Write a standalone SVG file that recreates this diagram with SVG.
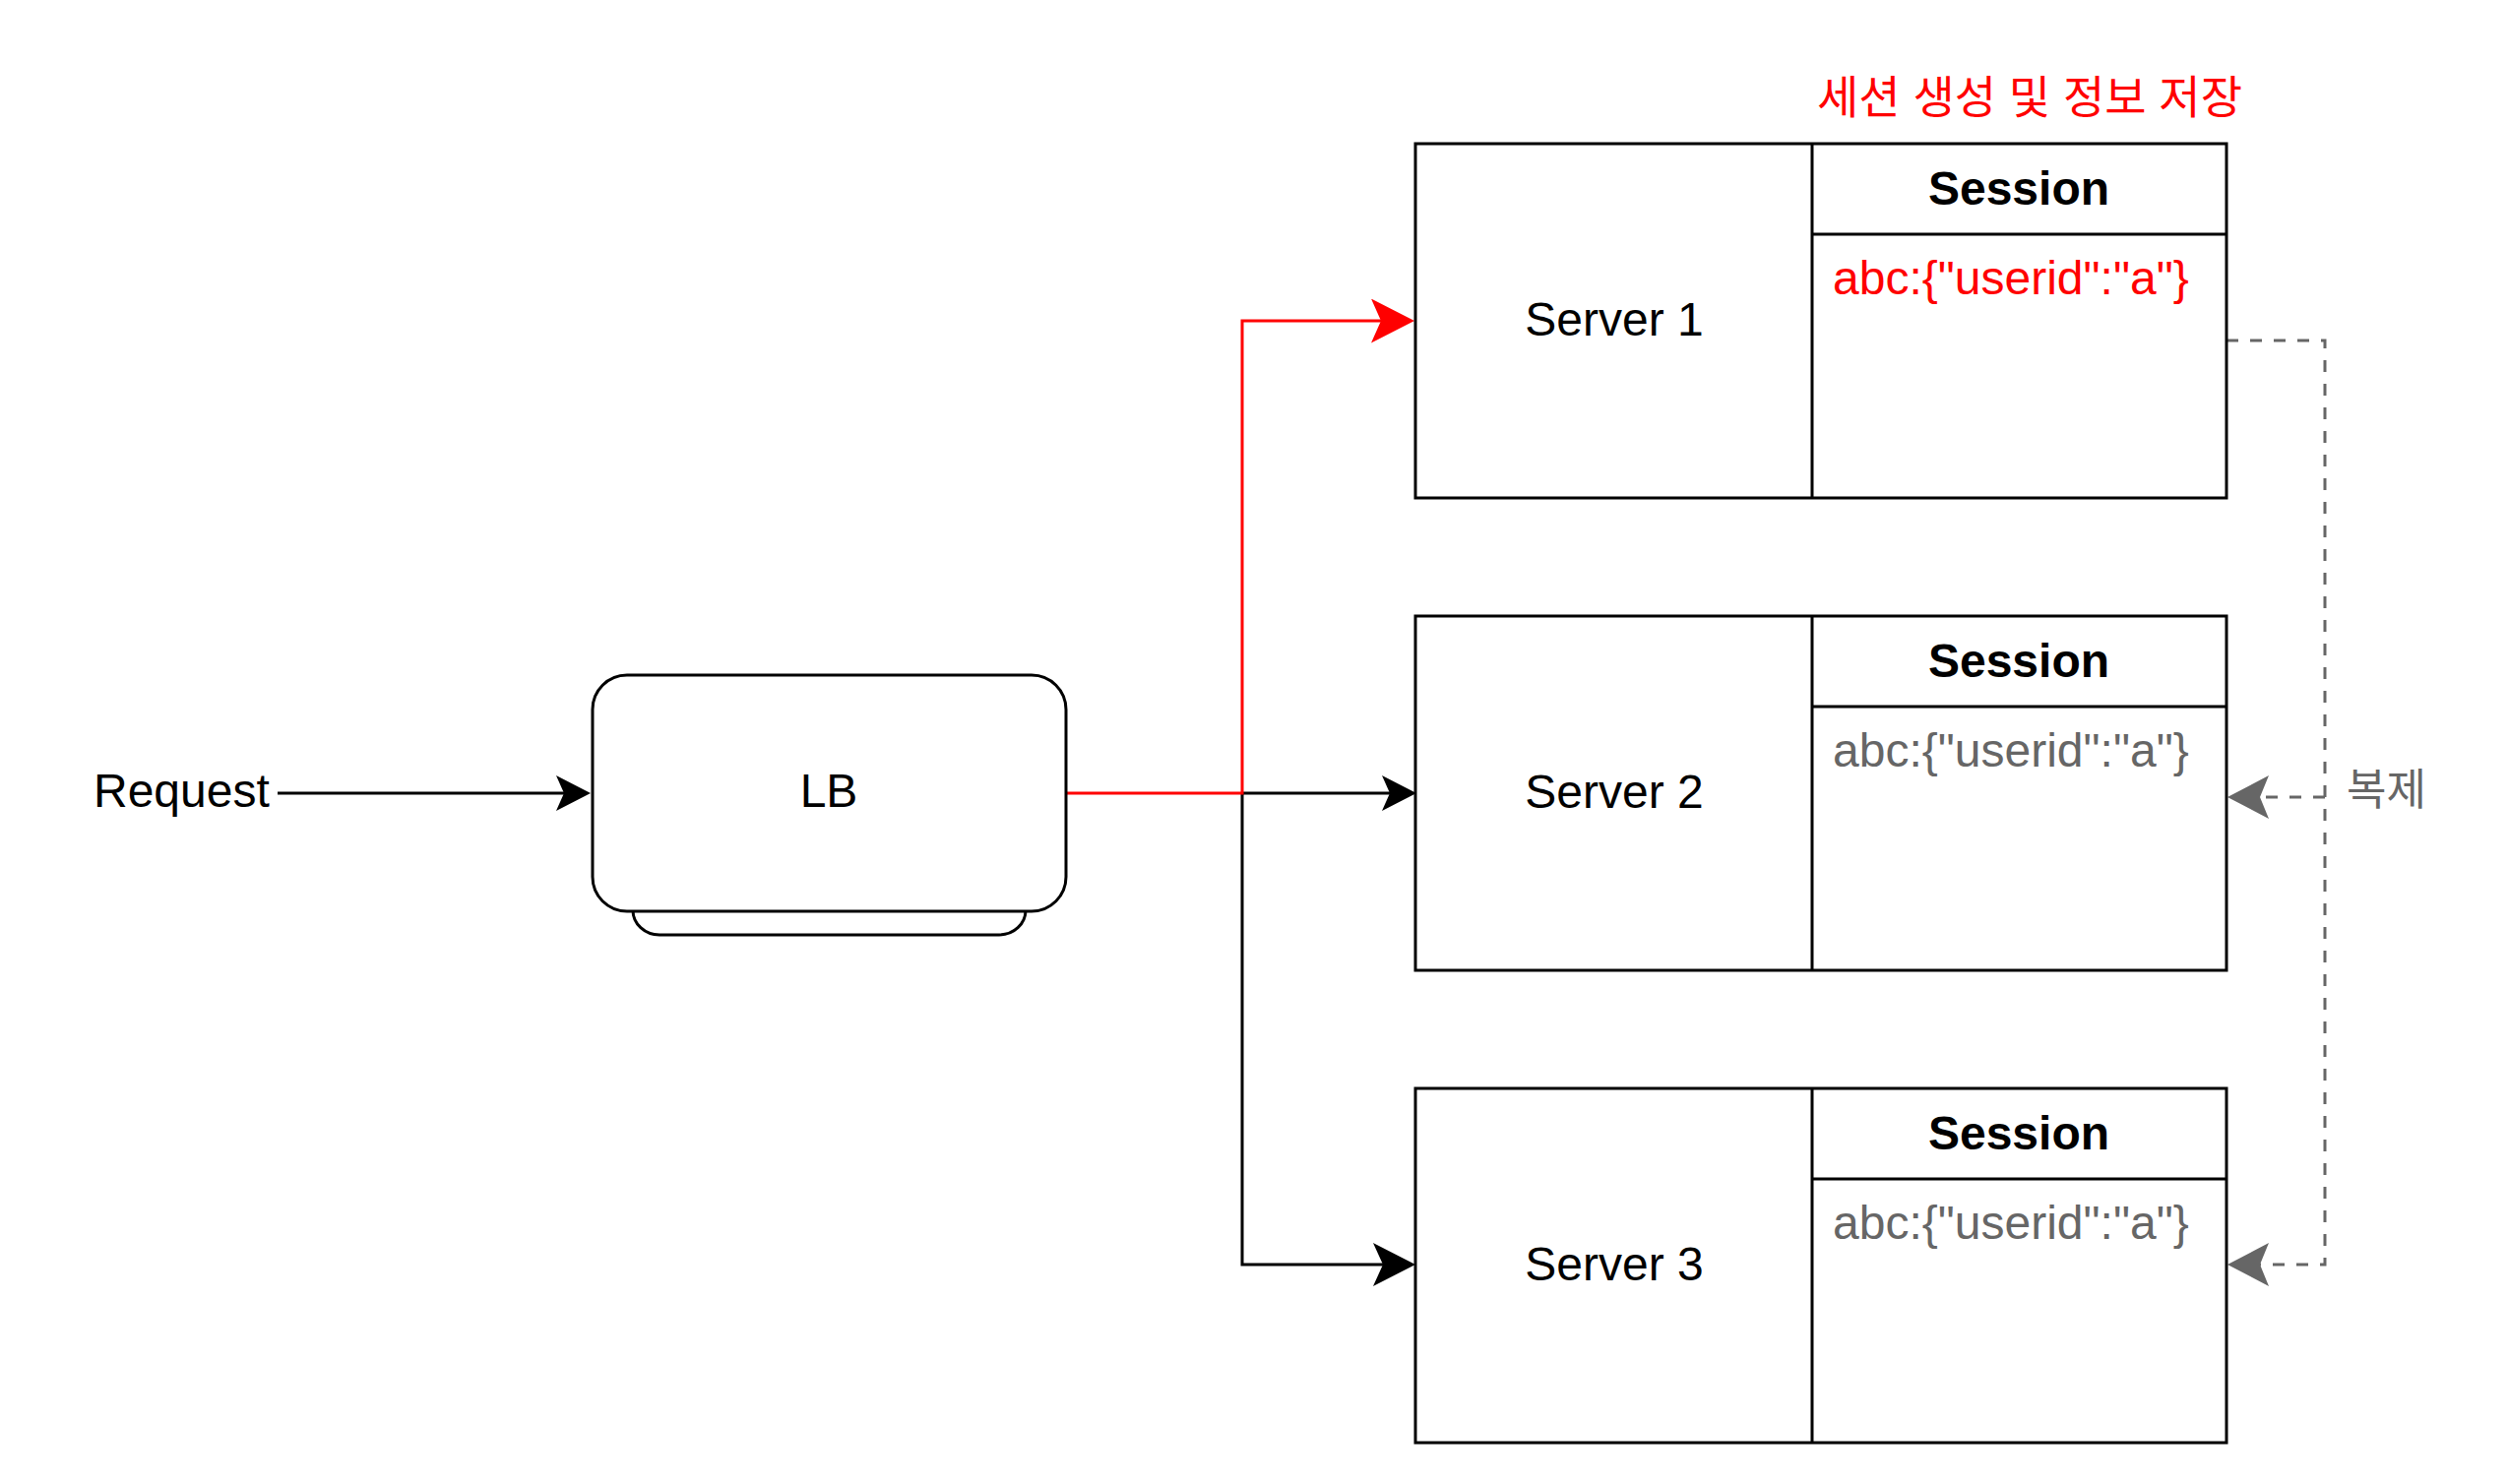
<svg xmlns="http://www.w3.org/2000/svg" width="2548" height="1508" viewBox="0 0 2548 1508">
<style>
  .box { fill: #ffffff; stroke: #000000; stroke-width: 3; }
  .ln { fill: none; stroke: #000000; stroke-width: 3; }
  .t { font-family: "Liberation Sans", Arial, "Noto Sans CJK KR", sans-serif; font-size: 48px; fill: #000000; }
  .b { font-weight: bold; text-anchor: middle; }
  .c { text-anchor: middle; }
  .red { fill: #ff0000; }
  .gray { fill: #666666; }
  .conn { fill: none; stroke-width: 3; }
  .k { stroke: #000000; }
  .r { stroke: #ff0000; }
  .g { stroke: #666666; stroke-dasharray: 12 12; }
</style>
<defs>
  <marker id="arrS" markerUnits="userSpaceOnUse" viewBox="0 0 35 36" markerWidth="35" markerHeight="36" refX="8" refY="18" orient="auto">
    <path d="M0,0 L35,18 L0,36 L8,18 Z" fill="#000000"/>
  </marker>
  <marker id="arrL" markerUnits="userSpaceOnUse" viewBox="0 0 43 44" markerWidth="43" markerHeight="44" refX="10" refY="22" orient="auto">
    <path d="M0,0 L43,22 L0,44 L10,22 Z" fill="#000000"/>
  </marker>
  <marker id="arrR" markerUnits="userSpaceOnUse" viewBox="0 0 44 45" markerWidth="44" markerHeight="45" refX="10" refY="22.5" orient="auto">
    <path d="M0,0 L44,22.5 L0,45 L10,22.5 Z" fill="#ff0000"/>
  </marker>
  <marker id="arrG" markerUnits="userSpaceOnUse" viewBox="0 0 42 44" markerWidth="42" markerHeight="44" refX="9" refY="22" orient="auto">
    <path d="M0,0 L42,22 L0,44 L9,22 Z" fill="#666666"/>
  </marker>
</defs>

<g id="connectors">
  <path class="conn k" d="M282,806 H573" marker-end="url(#arrS)"/>
  <path class="conn k" d="M1262,806 H1412" marker-end="url(#arrS)"/>
  <path class="conn k" d="M1262,806 V1285 H1405" marker-end="url(#arrL)"/>
  <path class="conn r" d="M1083,806 H1262 V326 H1403" marker-end="url(#arrR)"/>
  <path class="conn g" d="M2262,346 H2362 V1285 H2296" marker-end="url(#arrG)"/>
  <path class="conn g" d="M2362,810 H2296" marker-end="url(#arrG)"/>
</g>

<g id="request">
  <text class="t" x="95" y="820">Request</text>
</g>

<g id="lb">
  <path class="box" d="M643,900 V925 A27,25 0 0 0 670,950 H1015 A27,25 0 0 0 1042,925 V900 Z"/>
  <rect class="box" x="602" y="686" width="481" height="240" rx="35" ry="35"/>
  <text class="t c" x="842" y="820">LB</text>
</g>

<g id="server1">
  <rect class="box" x="1438" y="146" width="824" height="360"/>
  <line class="ln" x1="1841" y1="146" x2="1841" y2="506"/>
  <line class="ln" x1="1841" y1="238" x2="2262" y2="238"/>
  <text class="t c" x="1640" y="341">Server 1</text>
  <text class="t b" x="2051" y="208">Session</text>
  <text class="t red" x="1862" y="299">abc:{"userid":"a"}</text>
</g>

<g id="server2">
  <rect class="box" x="1438" y="626" width="824" height="360"/>
  <line class="ln" x1="1841" y1="626" x2="1841" y2="986"/>
  <line class="ln" x1="1841" y1="718" x2="2262" y2="718"/>
  <text class="t c" x="1640" y="821">Server 2</text>
  <text class="t b" x="2051" y="688">Session</text>
  <text class="t gray" x="1862" y="779">abc:{"userid":"a"}</text>
</g>

<g id="server3">
  <rect class="box" x="1438" y="1106" width="824" height="360"/>
  <line class="ln" x1="1841" y1="1106" x2="1841" y2="1466"/>
  <line class="ln" x1="1841" y1="1198" x2="2262" y2="1198"/>
  <text class="t c" x="1640" y="1301">Server 3</text>
  <text class="t b" x="2051" y="1168">Session</text>
  <text class="t gray" x="1862" y="1259">abc:{"userid":"a"}</text>
</g>

<g id="title">
  <text class="t c red" x="2062" y="115" style="font-size:46px">세션 생성 및 정보 저장</text>
</g>

<g id="replicate-label">
  <text class="t gray" x="2384" y="818" style="font-size:44px">복제</text>
</g>
</svg>
